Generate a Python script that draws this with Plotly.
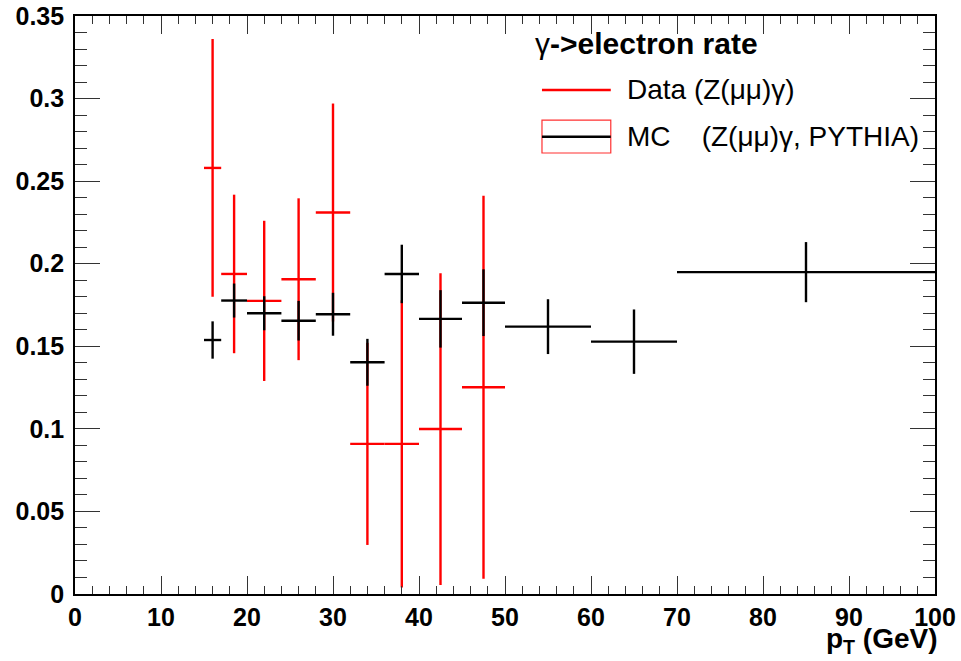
import plotly.graph_objects as go

# ---- data ----
data_x = [16, 18.5, 22, 26, 30, 34, 38, 42.5, 47.5]
data_xerr = [1, 1.5, 2, 2, 2, 2, 2, 2.5, 2.5]
data_y = [0.258, 0.1938, 0.1775, 0.1906, 0.231, 0.0909, 0.0909, 0.0999, 0.1252]
data_yerr = [0.078, 0.048, 0.0485, 0.049, 0.066, 0.0612, 0.087, 0.0944, 0.116]

mc_x = [16, 18.5, 22, 26, 30, 34, 38, 42.5, 47.5, 55, 65, 85]
mc_xerr = [1, 1.5, 2, 2, 2, 2, 2, 2.5, 2.5, 5, 5, 15]
mc_y = [0.1538, 0.1777, 0.170, 0.1655, 0.1694, 0.1403, 0.1938, 0.1666, 0.1764, 0.1619, 0.1528, 0.1949]
mc_yerr = [0.0113, 0.0103, 0.0103, 0.012, 0.013, 0.0142, 0.0177, 0.0174, 0.0202, 0.0166, 0.0195, 0.0182]

y_ticks = [0, 0.05, 0.1, 0.15, 0.2, 0.25, 0.3, 0.35]
y_ticktext = ["0", "0.05", "0.1", "0.15", "0.2", "0.25", "0.3", "0.35"]
x_ticks = [0, 10, 20, 30, 40, 50, 60, 70, 80, 90, 100]

FONT = "Liberation Sans, Arial, Helvetica, sans-serif"

fig = go.Figure()


def add_series(x, xerr, y, yerr, color):
    fig.add_trace(go.Scatter(
        x=x, y=y, mode="markers",
        marker=dict(size=1, color="rgba(0,0,0,0)"),
        error_x=dict(type="data", array=xerr, symmetric=True, color=color, thickness=2.4, width=0),
        error_y=dict(type="data", array=yerr, symmetric=True, color=color, thickness=2.4, width=0),
        showlegend=False, hoverinfo="skip",
    ))


add_series(data_x, data_xerr, data_y, data_yerr, "#ff0000")
add_series(mc_x, mc_xerr, mc_y, mc_yerr, "#000000")

axis_common = dict(
    showline=True, linecolor="black", linewidth=1.6, automargin=False,
    mirror="ticks", ticks="inside", tickcolor="#333333", tickwidth=1.4,
    showgrid=False, zeroline=False,
    tickfont=dict(family=FONT, size=25, color="black", weight="bold"),
)

fig.update_xaxes(
    range=[0, 100], tickvals=x_ticks, ticklen=18,
    minor=dict(dtick=2, ticklen=8, ticks="inside", tickcolor="#333333", tickwidth=1.4, showgrid=False),
    **axis_common,
)
fig.update_yaxes(
    range=[0, 0.35], tickvals=y_ticks, ticktext=y_ticktext, ticklen=25,
    minor=dict(dtick=0.01, ticklen=12, ticks="inside", tickcolor="#333333", tickwidth=1.4, showgrid=False),
    ticklabelstandoff=4,
    **axis_common,
)

# legend (decorations in paper coordinates)
fig.add_annotation(xref="paper", yref="paper", x=0.533, y=0.952, xanchor="left", yanchor="middle",
                   text="γ<b>-&gt;electron rate</b>", showarrow=False,
                   font=dict(family=FONT, size=30, color="black"))
fig.add_shape(type="line", xref="paper", yref="paper", x0=0.543, x1=0.623, y0=0.872, y1=0.872,
              line=dict(color="#ff0000", width=2.4))
fig.add_annotation(xref="paper", yref="paper", x=0.640, y=0.872, xanchor="left", yanchor="middle",
                   text="Data (Z(μμ)γ)", showarrow=False,
                   font=dict(family=FONT, size=28, color="black"))
fig.add_shape(type="rect", xref="paper", yref="paper", x0=0.543, x1=0.623, y0=0.763, y1=0.820,
              line=dict(color="#ff3030", width=1.2), fillcolor="rgba(0,0,0,0)")
fig.add_shape(type="line", xref="paper", yref="paper", x0=0.543, x1=0.623, y0=0.791, y1=0.791,
              line=dict(color="black", width=2.4))
fig.add_annotation(xref="paper", yref="paper", x=0.640, y=0.791, xanchor="left", yanchor="middle",
                   text="MC\u00a0\u00a0\u00a0\u00a0(Z(μμ)γ, PYTHIA)", showarrow=False,
                   font=dict(family=FONT, size=28, color="black"))

# x-axis title
fig.add_annotation(xref="paper", yref="paper", x=1.006, y=-0.046, xanchor="right", yanchor="top",
                   text="<b>p<sub>T</sub> (GeV)</b>", showarrow=False,
                   font=dict(family=FONT, size=28, color="black"))

fig.update_layout(
    width=961, height=661,
    margin=dict(l=75, r=26, t=16, b=67),
    paper_bgcolor="white", plot_bgcolor="white",
    showlegend=False,
)

fig.write_html("out.html")
